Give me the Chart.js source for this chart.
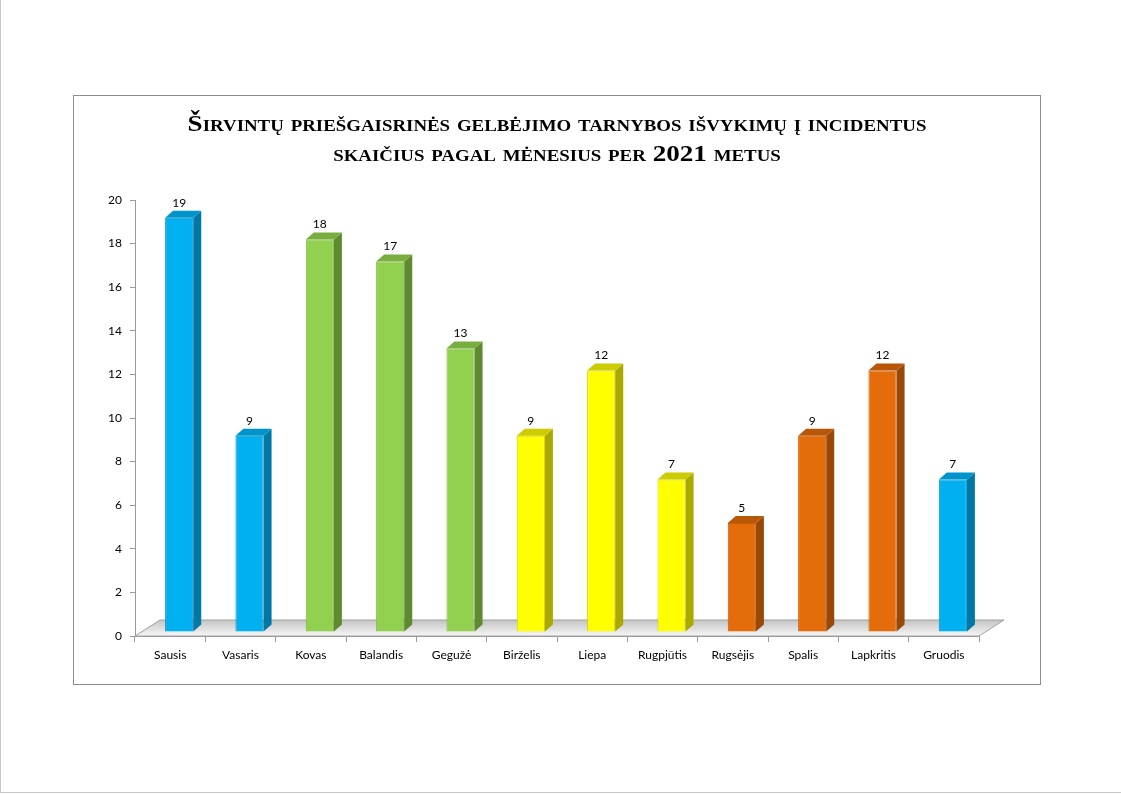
<!DOCTYPE html>
<html>
<head>
<meta charset="utf-8">
<script src="https://cdn.jsdelivr.net/npm/chart.js@4.4.1/dist/chart.umd.min.js"></script>
<style>
  html, body { margin: 0; padding: 0; background: #fff; }
  body { width: 1121px; height: 794px; position: relative; overflow: hidden; }
  .page { position: absolute; left: 0; top: 0; width: 1121px; height: 793px;
    border-left: 1px solid #c8c8c8; border-bottom: 1px solid #c8c8c8; box-sizing: border-box; }
  .box { position: absolute; left: 73px; top: 95px; width: 968px; height: 590px;
    border: 1px solid #8c8c8c; box-sizing: border-box; }
  .title { position: absolute; left: 0; right: 0; top: 13px; text-align: center;
    font-family: "Liberation Serif", "DejaVu Serif", serif; font-weight: bold;
    font-variant: small-caps; font-size: 23px; line-height: 30px; color: #000;
    transform: scaleX(1.18); transform-origin: 50% 0; }
  canvas { position: absolute; left: 0; top: 0; }
</style>
</head>
<body>
<div class="page"></div>
<div class="box">
  <canvas id="chart" width="966" height="588"></canvas>
  <div class="title">Širvintų priešgaisrinės gelbėjimo tarnybos išvykimų į incidentus<br>skaičius pagal mėnesius per 2021 metus</div>
</div>
<script>
const months = ['Sausis', 'Vasaris', 'Kovas', 'Balandis', 'Gegužė', 'Birželis',
  'Liepa', 'Rugpjūtis', 'Rugsėjis', 'Spalis', 'Lapkritis', 'Gruodis'];
const trips = [19, 9, 18, 17, 13, 9, 12, 7, 5, 9, 12, 7];
const yTicks = [0, 2, 4, 6, 8, 10, 12, 14, 16, 18, 20];

// season per month -> colour set
const seasonOf = ['w', 'w', 's', 's', 's', 'u', 'u', 'u', 'a', 'a', 'a', 'w'];
const palette = {
  w: { front: '#00b0f0', side: '#0078a6', top: '#0094cc', edge: '#0a8fc4' },
  s: { front: '#92d050', side: '#5f8a30', top: '#78ad40', edge: '#7fb845' },
  u: { front: '#ffff00', side: '#a9a900', top: '#cccc00', edge: '#d6d600' },
  a: { front: '#e46c0a', side: '#984807', top: '#b85707', edge: '#c85e08' }
};

const DX = 8, DY = 7;      // depth of the 3d look
const SHIFT_X = 9, SHIFT_Y = -4;

const floorPlugin = {
  id: 'floor',
  beforeDatasetsDraw(chart) {
    const { ctx, chartArea: a } = chart;
    const b = a.bottom, l = a.left, r = a.right;
    ctx.save();
    const g = ctx.createLinearGradient(0, b - 16, 0, b);
    g.addColorStop(0, '#c4c4c4');
    g.addColorStop(0.6, '#e2e2e2');
    g.addColorStop(1, '#f8f8f8');
    ctx.beginPath();
    ctx.moveTo(l, b);
    ctx.lineTo(r, b);
    ctx.lineTo(r + 25, b - 16);
    ctx.lineTo(l + 25, b - 16);
    ctx.closePath();
    ctx.fillStyle = g;
    ctx.fill();
    ctx.strokeStyle = '#a0a0a0';
    ctx.lineWidth = 1;
    ctx.stroke();
    ctx.restore();
    ctx.save();
    ctx.translate(SHIFT_X, SHIFT_Y);
  },
  afterDatasetsDraw(chart) {
    const { ctx } = chart;
    ctx.restore();
    const meta = chart.getDatasetMeta(0);
    ctx.save();
    meta.data.forEach((bar, i) => {
      const p = palette[seasonOf[i]];
      const half = bar.width / 2;
      const left = bar.x - half + SHIFT_X;
      const right = bar.x + half + SHIFT_X;
      const top = bar.y + SHIFT_Y;
      const bottom = bar.base + SHIFT_Y;
      // side
      ctx.beginPath();
      ctx.moveTo(right, top);
      ctx.lineTo(right + DX, top - DY);
      ctx.lineTo(right + DX, bottom - DY);
      ctx.lineTo(right, bottom);
      ctx.closePath();
      ctx.fillStyle = p.side;
      ctx.fill();
      // top cap
      ctx.beginPath();
      ctx.moveTo(left, top);
      ctx.lineTo(left + DX, top - DY);
      ctx.lineTo(right + DX, top - DY);
      ctx.lineTo(right, top);
      ctx.closePath();
      ctx.fillStyle = p.top;
      ctx.fill();
      // value label
      ctx.fillStyle = '#000';
      ctx.font = '12px Lato, "Open Sans", sans-serif';
      ctx.textAlign = 'center';
      ctx.textBaseline = 'middle';
      ctx.fillText(String(trips[i]), bar.x + SHIFT_X, top - 15);
    });
    ctx.restore();
  }
};

new Chart(document.getElementById('chart'), {
  type: 'bar',
  data: {
    labels: months,
    datasets: [{
      data: trips,
      backgroundColor: seasonOf.map(s => palette[s].front),
      borderColor: seasonOf.map(s => palette[s].edge),
      borderWidth: 1,
      borderSkipped: 'bottom',
      barPercentage: 0.4,
      categoryPercentage: 1
    }]
  },
  options: {
    responsive: false,
    animation: false,
    events: [],
    layout: { padding: { left: 0, right: 61, top: 104, bottom: 0 } },
    plugins: { legend: { display: false }, title: { display: false }, tooltip: { enabled: false } },
    scales: {
      x: {
        grid: { display: true, drawOnChartArea: false, offset: true, tickLength: 6, color: '#9a9a9a' },
        border: { display: true, color: '#9a9a9a' },
        ticks: { color: '#000', padding: 6, font: { family: 'Lato', size: 12 } },
        afterFit(s) { s.height = 48; }
      },
      y: {
        min: 0,
        max: 20,
        afterBuildTicks(s) { s.ticks = yTicks.map(v => ({ value: v })); },
        grid: { display: true, drawOnChartArea: false, tickLength: 5, color: '#9a9a9a' },
        border: { display: true, color: '#9a9a9a' },
        ticks: { color: '#000', padding: 8, font: { family: 'Lato', size: 12 } },
        afterFit(s) { s.width = 61; }
      }
    }
  },
  plugins: [floorPlugin]
});
</script>
</body>
</html>
